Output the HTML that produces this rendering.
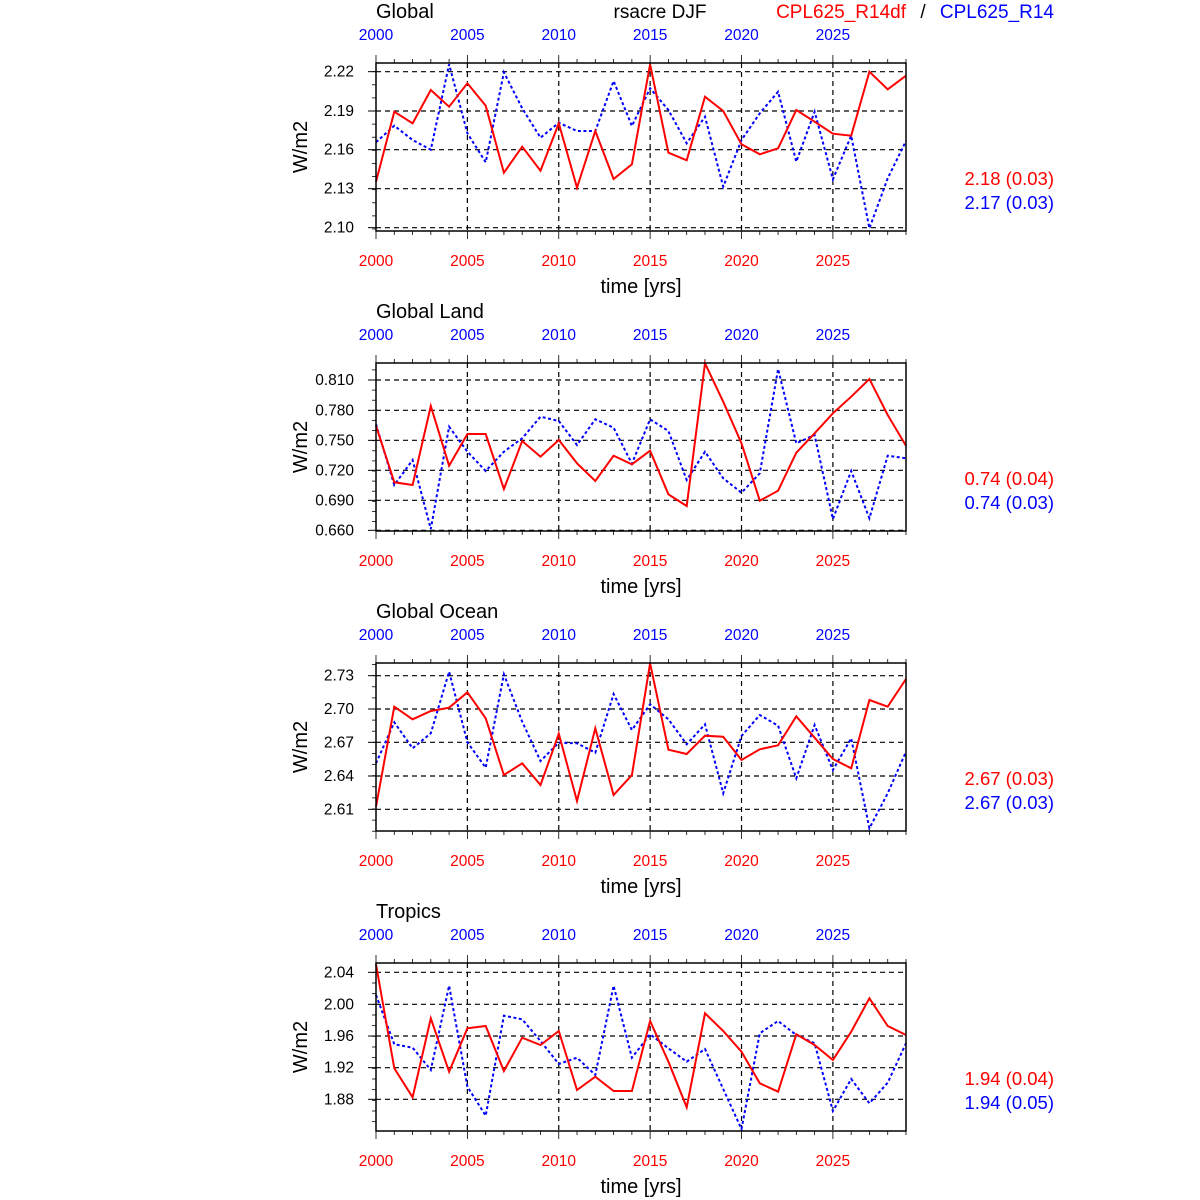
<!DOCTYPE html>
<html><head><meta charset="utf-8"><style>
html,body{margin:0;padding:0;background:#fff;width:1200px;height:1200px;overflow:hidden}
svg text{font-family:"Liberation Sans",sans-serif}
</style></head><body>
<svg id="s" width="1200" height="1200" xmlns="http://www.w3.org/2000/svg"></svg>
<script>
const S=document.getElementById('s');let h='';
const X=y=>376+(y-2000)*(530/29);
const P=[
{off:55,t:'Global',g:[[50,'2.22'],[168,'2.19'],[284,'2.16'],[401,'2.13'],[518,'2.10']],s:['2.18 (0.03)','2.17 (0.03)'],
r:[380,170,205,105,155,85,152,353,275,347,205,398,228,372,328,28,293,316,125,168,268,298,280,165,200,236,242,50,103,62],
b:[262,212,255,284,28,235,322,52,160,248,203,228,228,78,213,100,165,265,185,395,255,175,110,320,170,373,242,520,370,258]},
{off:355,t:'Global Land',g:[[75,'0.810'],[166,'0.780'],[256,'0.750'],[346,'0.720'],[436,'0.690'],[526,'0.660']],s:['0.74 (0.04)','0.74 (0.03)'],
r:[212,382,390,153,332,237,237,402,258,305,255,325,378,302,328,287,418,453,25,140,265,437,407,293,235,175,125,72,180,272],
b:[208,390,315,522,215,290,348,290,250,185,198,270,193,218,326,193,228,375,290,370,413,355,42,265,240,492,348,490,302,310]},
{off:655,t:'Global Ocean',g:[[62,'2.73'],[162,'2.70'],[262,'2.67'],[363,'2.64'],[463,'2.61']],s:['2.67 (0.03)','2.67 (0.03)'],
r:[455,155,193,168,158,112,190,360,325,390,236,438,220,420,360,25,284,297,242,245,315,283,271,184,248,312,340,135,155,72],
b:[325,202,280,235,50,262,338,58,200,318,263,265,293,117,225,148,193,268,208,415,243,180,212,370,210,345,250,520,415,290]},
{off:955,t:'Tropics',g:[[52,'2.04'],[148,'2.00'],[243,'1.96'],[338,'1.92'],[433,'1.88']],s:['1.94 (0.04)','1.94 (0.05)'],
r:[28,340,427,190,350,220,213,348,248,270,228,405,365,408,408,198,320,457,175,228,290,385,410,238,270,315,230,130,213,240],
b:[120,268,278,345,92,395,482,182,193,258,327,308,360,92,308,238,280,320,282,402,522,235,198,240,265,468,372,445,383,265]}];
h+='<text x="660" y="18" font-size="19" text-anchor="middle">rsacre DJF</text>';
h+='<text x="906" y="18" font-size="19" text-anchor="end" fill="#f00">CPL625_R14df</text>';
h+='<text x="923" y="18" font-size="19" text-anchor="middle">/</text>';
h+='<text x="1054" y="18" font-size="19" text-anchor="end" fill="#00f">CPL625_R14</text>';
P.forEach((p,i)=>{
 const o=p.off, T=o+8, B=o+176, Y=z=>o+z/3, d=i*300;
 h+=`<text x="376" y="${18+d}" font-size="20">${p.t}</text>`;
 for(let yr=2000;yr<=2025;yr+=5){
  h+=`<text x="${X(yr)}" y="${40+d}" font-size="15.5" fill="#00f" text-anchor="middle">${yr}</text>`;
  h+=`<text x="${X(yr)}" y="${266+d}" font-size="15.5" fill="#f00" text-anchor="middle">${yr}</text>`;
 }
 h+=`<text x="641" y="${293+d}" font-size="20" text-anchor="middle">time [yrs]</text>`;
 h+=`<text transform="translate(307,${147+d}) rotate(-90)" font-size="20" text-anchor="middle">W/m2</text>`;
 h+=`<text x="1054" y="${185+d}" font-size="18.5" fill="#f00" text-anchor="end">${p.s[0]}</text>`;
 h+=`<text x="1054" y="${209+d}" font-size="18.5" fill="#00f" text-anchor="end">${p.s[1]}</text>`;
 p.g.forEach(g=>{const y=Y(g[0]);
  h+=`<line x1="376" x2="906" y1="${y}" y2="${y}" stroke="#000" stroke-width="1.2" stroke-dasharray="5,4"/>`;
  h+=`<line x1="368" x2="376" y1="${y}" y2="${y}" stroke="#000"/>`;
  h+=`<text x="354" y="${y+5}" font-size="15.5" text-anchor="end">${g[1]}</text>`;});
 const gy=p.g.map(g=>Y(g[0])), st=(gy[1]-gy[0])/3;
 for(let y=gy[0]-3*st;y<=B+0.5;y+=st){ if(y>=T-0.5) h+=`<line x1="372" x2="376" y1="${y}" y2="${y}" stroke="#000" stroke-width="0.8"/>`;}
 for(let yr=2005;yr<=2025;yr+=5) h+=`<line x1="${X(yr)}" x2="${X(yr)}" y1="${T}" y2="${B}" stroke="#000" stroke-width="1.2" stroke-dasharray="5,4"/>`;
 for(let yr=2000;yr<=2029;yr++){const L=yr%5?4:8;
  h+=`<line x1="${X(yr)}" x2="${X(yr)}" y1="${T-L}" y2="${T}" stroke="#000" stroke-width="0.8"/>`;
  h+=`<line x1="${X(yr)}" x2="${X(yr)}" y1="${B}" y2="${B+L}" stroke="#000" stroke-width="0.8"/>`;}
 const pts=a=>a.map((z,k)=>`${X(2000+k).toFixed(1)},${Y(z).toFixed(1)}`).join(' ');
 h+=`<polyline points="${pts(p.b)}" fill="none" stroke="#00f" stroke-width="2" stroke-dasharray="3,2.5"/>`;
 h+=`<polyline points="${pts(p.r)}" fill="none" stroke="#f00" stroke-width="2"/>`;
 h+=`<rect x="376" y="${T}" width="530" height="${B-T}" fill="none" stroke="#000" stroke-width="1.5"/>`;
});
S.innerHTML=h;
</script>
</body></html>
